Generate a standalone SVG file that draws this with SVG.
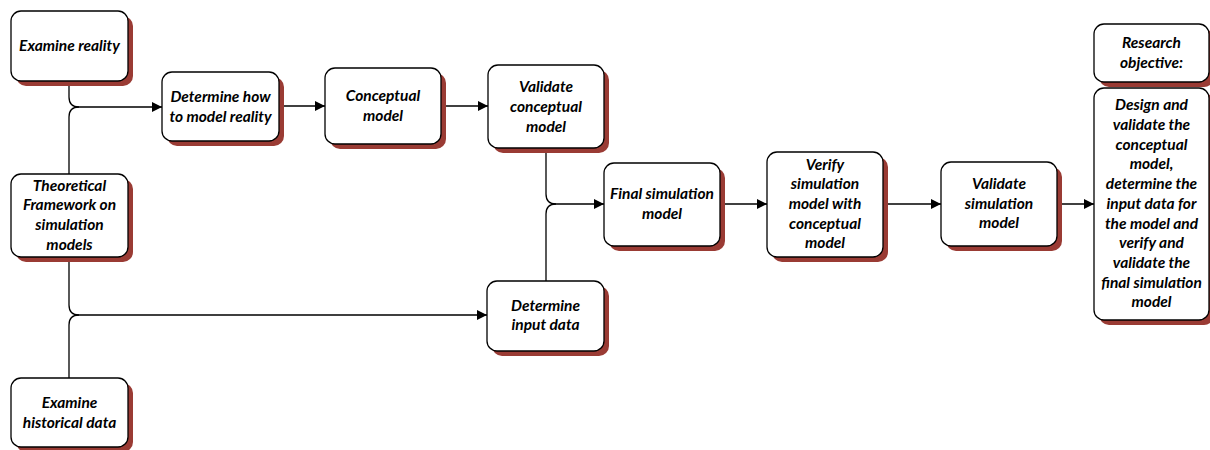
<svg xmlns="http://www.w3.org/2000/svg" width="1210" height="450" viewBox="0 0 1210 450">
<defs>
<marker id="arr" viewBox="0 0 10 10" refX="10" refY="5" markerWidth="12" markerHeight="10" markerUnits="userSpaceOnUse" orient="auto"><path d="M0,0 L10,5 L0,10 Z" fill="#000"/></marker>
</defs>
<style>
.sh{fill:#9a3b34;}
.bx{fill:#fff;stroke:#000;stroke-width:1.3;}
text{font-family:Lato,"Liberation Sans",sans-serif;font-weight:bold;font-style:italic;font-size:15.5px;fill:#000;text-anchor:middle;}
.c{fill:none;stroke:#000;stroke-width:1.3;}
</style>
<rect width="1210" height="450" fill="#fff"/>
<g id="connectors">
<path class="c" d="M69,81 V97 Q69,107 79,107 H162" marker-end="url(#arr)"/>
<path class="c" d="M69,174 V117 Q69,107 79,107"/>
<path class="c" d="M279,106 H325" marker-end="url(#arr)"/>
<path class="c" d="M441,106 H488" marker-end="url(#arr)"/>
<path class="c" d="M69,257 V305 Q69,315 79,315 H487" marker-end="url(#arr)"/>
<path class="c" d="M69,378 V325 Q69,315 79,315"/>
<path class="c" d="M546,148 V194 Q546,204 556,204 H604" marker-end="url(#arr)"/>
<path class="c" d="M546,281 V214 Q546,204 556,204"/>
<path class="c" d="M720,204 H767" marker-end="url(#arr)"/>
<path class="c" d="M883,204 H941" marker-end="url(#arr)"/>
<path class="c" d="M1057,204 H1094" marker-end="url(#arr)"/>
</g>
<g id="n-examine-reality">
<rect class="sh" x="16" y="16" width="117" height="70" rx="10"/>
<rect class="bx" x="11" y="11" width="117" height="70" rx="10"/>
<text x="69.5" y="51">Examine reality</text>
</g>
<g id="n-determine-how">
<rect class="sh" x="167" y="77" width="117" height="69" rx="10"/>
<rect class="bx" x="162" y="72" width="117" height="69" rx="10"/>
<text x="220.5" y="102">Determine how</text>
<text x="220.5" y="122">to model reality</text>
</g>
<g id="n-conceptual-model">
<rect class="sh" x="330" y="73" width="116" height="76" rx="10"/>
<rect class="bx" x="325" y="68" width="116" height="76" rx="10"/>
<text x="383" y="101">Conceptual</text>
<text x="383" y="121">model</text>
</g>
<g id="n-validate-conceptual">
<rect class="sh" x="493" y="70" width="116" height="83" rx="10"/>
<rect class="bx" x="488" y="65" width="116" height="83" rx="10"/>
<text x="546" y="92">Validate</text>
<text x="546" y="112">conceptual</text>
<text x="546" y="132">model</text>
</g>
<g id="n-theoretical">
<rect class="sh" x="16" y="179" width="117" height="83" rx="10"/>
<rect class="bx" x="11" y="174" width="117" height="83" rx="10"/>
<text x="69.5" y="191">Theoretical</text>
<text x="69.5" y="210">Framework on</text>
<text x="69.5" y="230">simulation</text>
<text x="69.5" y="250">models</text>
</g>
<g id="n-historical">
<rect class="sh" x="16" y="383" width="117" height="69" rx="10"/>
<rect class="bx" x="11" y="378" width="117" height="69" rx="10"/>
<text x="69.5" y="408">Examine</text>
<text x="69.5" y="428">historical data</text>
</g>
<g id="n-input-data">
<rect class="sh" x="492" y="286" width="117" height="70" rx="10"/>
<rect class="bx" x="487" y="281" width="117" height="70" rx="10"/>
<text x="545.5" y="311">Determine</text>
<text x="545.5" y="330">input data</text>
</g>
<g id="n-final-sim">
<rect class="sh" x="609" y="168" width="116" height="83" rx="10"/>
<rect class="bx" x="604" y="163" width="116" height="83" rx="10"/>
<text x="662" y="199">Final simulation</text>
<text x="662" y="219">model</text>
</g>
<g id="n-verify">
<rect class="sh" x="772" y="157" width="116" height="105" rx="10"/>
<rect class="bx" x="767" y="152" width="116" height="105" rx="10"/>
<text x="825" y="170">Verify</text>
<text x="825" y="189">simulation</text>
<text x="825" y="209">model with</text>
<text x="825" y="229">conceptual</text>
<text x="825" y="248">model</text>
</g>
<g id="n-validate-sim">
<rect class="sh" x="946" y="167" width="116" height="84" rx="10"/>
<rect class="bx" x="941" y="162" width="116" height="84" rx="10"/>
<text x="999" y="189">Validate</text>
<text x="999" y="209">simulation</text>
<text x="999" y="228">model</text>
</g>
<g id="n-research-objective">
<rect class="sh" x="1099" y="29" width="115" height="58" rx="10"/>
<rect class="bx" x="1094" y="24" width="115" height="58" rx="10"/>
<text x="1151.5" y="48">Research</text>
<text x="1151.5" y="68">objective:</text>
</g>
<g id="n-objective-text">
<rect class="sh" x="1099" y="93" width="115" height="232" rx="10"/>
<rect class="bx" x="1094" y="88" width="115" height="232" rx="10"/>
<text x="1151.5" y="110">Design and</text>
<text x="1151.5" y="130">validate the</text>
<text x="1151.5" y="150">conceptual</text>
<text x="1151.5" y="169">model,</text>
<text x="1151.5" y="189">determine the</text>
<text x="1151.5" y="209">input data for</text>
<text x="1151.5" y="229">the model and</text>
<text x="1151.5" y="248">verify and</text>
<text x="1151.5" y="268">validate the</text>
<text x="1151.5" y="288">final simulation</text>
<text x="1151.5" y="307">model</text>
</g>
</svg>
